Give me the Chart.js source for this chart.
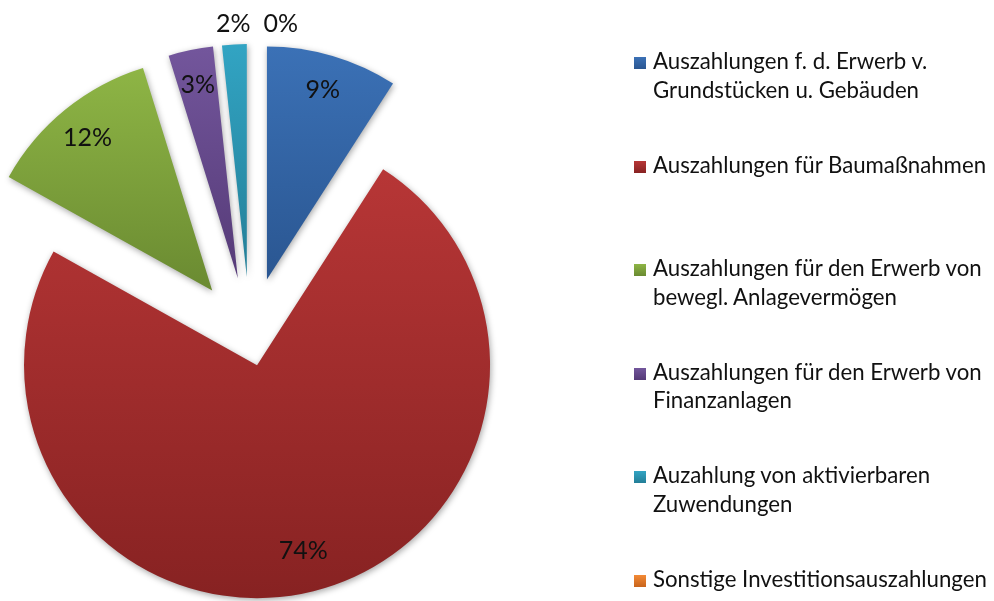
<!DOCTYPE html>
<html lang="de">
<head>
<meta charset="utf-8">
<title>Investitionsauszahlungen</title>
<script src="https://cdn.jsdelivr.net/npm/chart.js@4.4.1/dist/chart.umd.min.js"></script>
<style>
  html, body { margin: 0; padding: 0; background: #fff; }
  #wrap { position: relative; width: 994px; height: 601px; overflow: hidden; }
  #pie { position: absolute; left: 0; top: 0; }
  #legend { position: absolute; left: 0; top: 0; font-family: Lato, sans-serif; color: #111; }
  .item { position: absolute; left: 653px; line-height: 28.5px; white-space: nowrap; }
  .box { position: absolute; left: -19px; width: 12px; height: 12px; }
  .probe { display: inline-block; width: 0; height: 0; vertical-align: baseline; }
</style>
</head>
<body>
<div id="wrap">
  <canvas id="pie" width="994" height="601"></canvas>
  <div id="legend"></div>
</div>
<script>
// categories (legend lines), shares in percent
const categories = [
  ["Auszahlungen f. d. Erwerb v.", "Grundstücken u. Gebäuden"],
  ["Auszahlungen für Baumaßnahmen"],
  ["Auszahlungen für den Erwerb von", "bewegl. Anlagevermögen"],
  ["Auszahlungen für den Erwerb von", "Finanzanlagen"],
  ["Auzahlung von aktivierbaren", "Zuwendungen"],
  ["Sonstige Investitionsauszahlungen"]
];
const shares = [9.1, 74.0, 12.1, 3.1, 1.7, 0];

// styling
const topColors = ["#3b71b6", "#b73636", "#8eb545", "#73569c", "#32a4c3", "#f38a36"];
const bottomColors = ["#2a5691", "#872222", "#6a8a31", "#553a77", "#237e97", "#c8641c"];
const explode = [60, 29, 60, 60, 60, 60];
const R = 233;

const total = shares.reduce((a, b) => a + b, 0);

function fitFont(text, target, base) {
  const m = document.createElement('canvas').getContext('2d');
  m.font = base + 'px Lato';
  return base * target / m.measureText(text).width;
}
const legendSize = fitFont('Sonstige Investitionsauszahlungen', 334, 22);
const labelSize = 25;

// vertical extent of a slice (in un-exploded coordinates) for its gradient
function sliceBox(area, i) {
  const cy = (area.top + area.bottom) / 2;
  let cum = 0;
  for (let k = 0; k < i; k++) cum += shares[k];
  const a0 = -Math.PI / 2 + 2 * Math.PI * cum / total;
  const a1 = a0 + 2 * Math.PI * shares[i] / total;
  const ys = [cy, cy + R * Math.sin(a0), cy + R * Math.sin(a1)];
  [Math.PI / 2, 3 * Math.PI / 2].forEach(a => {
    if (a > a0 && a < a1) ys.push(cy + R * Math.sin(a));
  });
  return { top: Math.min(...ys), bottom: Math.max(...ys) };
}

function sliceFill(c) {
  const i = c.dataIndex;
  const area = c.chart.chartArea;
  if (!area) return topColors[i];
  const box = sliceBox(area, i);
  const g = c.chart.ctx.createLinearGradient(0, box.top, 0, box.bottom + 1);
  g.addColorStop(0, topColors[i]);
  g.addColorStop(1, bottomColors[i]);
  return g;
}

const explodePlugin = {
  id: 'explode',
  beforeDatasetDraw(chart, args) {
    const ctx = chart.ctx;
    args.meta.data.forEach((arc, i) => {
      if (arc.circumference === 0) return;
      const mid = (arc.startAngle + arc.endAngle) / 2;
      ctx.save();
      ctx.translate(Math.cos(mid) * explode[i], Math.sin(mid) * explode[i]);
      ctx.shadowColor = 'rgba(0,0,0,0.35)';
      ctx.shadowBlur = 6;
      ctx.shadowOffsetX = 1;
      ctx.shadowOffsetY = 2;
      arc.draw(ctx);
      ctx.restore();
    });
    return false;
  },
  afterDatasetsDraw(chart) {
    const ctx = chart.ctx;
    const meta = chart.getDatasetMeta(0);
    ctx.save();
    ctx.font = labelSize + 'px Lato';
    ctx.fillStyle = '#111';
    ctx.textAlign = 'center';
    ctx.textBaseline = 'alphabetic';
    const placed = [];
    meta.data.forEach((arc, i) => {
      const frac = shares[i] / total;
      const text = Math.round(frac * 100) + '%';
      const w = ctx.measureText(text).width;
      const mid = (arc.startAngle + arc.endAngle) / 2;
      const inside = frac >= 0.025;
      const r = explode[i] + (inside ? (frac > 0.5 ? 0.82 : 0.85) * arc.outerRadius : arc.outerRadius + 21);
      let x = arc.x + Math.cos(mid) * r;
      const y = arc.y + Math.sin(mid) * r;
      if (!inside) {
        placed.forEach(p => {
          if (Math.abs(x - p.x) < (w + p.w) / 2 + 13 && Math.abs(y - p.y) < labelSize) {
            x = p.x + (w + p.w) / 2 + 13;
          }
        });
        placed.push({ x, y, w });
      }
      ctx.fillText(text, x, y + labelSize * 0.36);
    });
    ctx.restore();
  }
};

new Chart(document.getElementById('pie'), {
  type: 'pie',
  data: {
    labels: categories.map(l => l.join(' ')),
    datasets: [{
      data: shares,
      backgroundColor: sliceFill,
      borderWidth: 0
    }]
  },
  options: {
    responsive: false,
    animation: false,
    radius: R,
    layout: { padding: { left: 0, right: 494, top: 73, bottom: 0 } },
    plugins: {
      legend: { display: false },
      tooltip: { enabled: false }
    }
  },
  plugins: [explodePlugin]
});

// legend
const legend = document.getElementById('legend');
categories.forEach((lines, i) => {
  const row = document.createElement('div');
  row.className = 'item';
  row.style.fontSize = legendSize + 'px';
  const box = document.createElement('span');
  box.className = 'box';
  box.style.background = 'linear-gradient(' + topColors[i] + ',' + bottomColors[i] + ')';
  row.appendChild(box);
  const probe = document.createElement('span');
  probe.className = 'probe';
  row.appendChild(probe);
  lines.forEach((line, k) => {
    if (k > 0) row.appendChild(document.createElement('br'));
    row.appendChild(document.createTextNode(line));
  });
  legend.appendChild(row);
  const base = probe.getBoundingClientRect().top - row.getBoundingClientRect().top;
  row.style.top = (69 + i * 103.6 - base) + 'px';
  box.style.top = (base - 12) + 'px';
});
</script>
</body>
</html>
